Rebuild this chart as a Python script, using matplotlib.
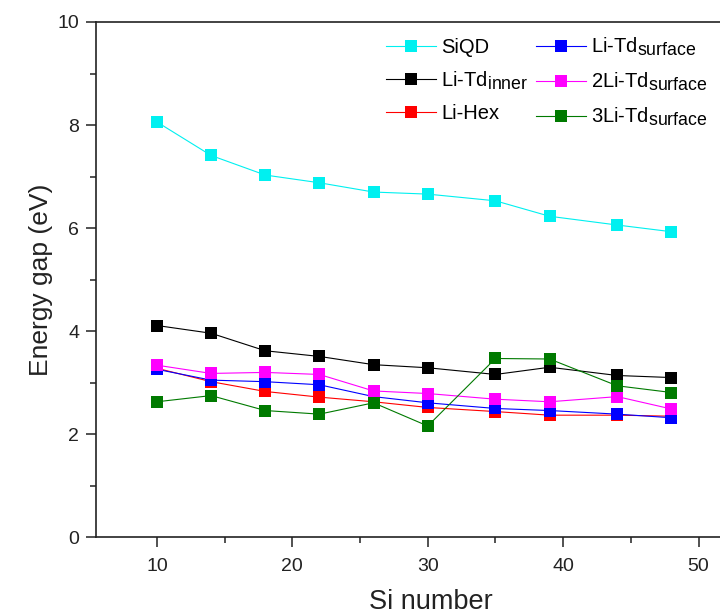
import matplotlib
matplotlib.use("Agg")
import matplotlib.pyplot as plt
import matplotlib._mathtext as _mt
from matplotlib.ticker import MultipleLocator

# larger subscripts in legend labels
_mt.SHRINK_FACTOR = 0.88

plt.rcParams["font.family"] = ["Liberation Sans", "DejaVu Sans"]
plt.rcParams["mathtext.fontset"] = "custom"
plt.rcParams["mathtext.rm"] = "Liberation Sans"
plt.rcParams["mathtext.it"] = "Liberation Sans"
plt.rcParams["mathtext.bf"] = "Liberation Sans:bold"

si_number = [10, 14, 18, 22, 26, 30, 35, 39, 44, 48]

sigap_siqd = [8.06, 7.41, 7.03, 6.88, 6.70, 6.66, 6.53, 6.23, 6.06, 5.93]
sigap_td_inner = [4.11, 3.96, 3.62, 3.51, 3.35, 3.29, 3.16, 3.30, 3.14, 3.10]
sigap_hex = [3.28, 3.02, 2.83, 2.72, 2.63, 2.52, 2.44, 2.37, 2.37, 2.35]
sigap_td_surface = [3.26, 3.05, 3.02, 2.96, 2.73, 2.61, 2.50, 2.46, 2.39, 2.32]
sigap_2li_surface = [3.34, 3.18, 3.20, 3.16, 2.84, 2.79, 2.68, 2.63, 2.73, 2.49]
sigap_3li_surface = [2.63, 2.75, 2.46, 2.39, 2.61, 2.16, 3.47, 3.46, 2.94, 2.81]

labels = [
    "SiQD",
    r"Li-Td$_{\mathregular{inner}}$",
    "Li-Hex",
    r"Li-Td$_{\mathregular{surface}}$",
    r"2Li-Td$_{\mathregular{surface}}$",
    r"3Li-Td$_{\mathregular{surface}}$",
]
series = [sigap_siqd, sigap_td_inner, sigap_hex,
          sigap_td_surface, sigap_2li_surface, sigap_3li_surface]
colors = ["#00F0F0", "#000000", "#FF0000", "#0000FF", "#FF00FF", "#007A00"]

fig = plt.figure(figsize=(7.2, 6.15), dpi=100)
W, H = 720, 615
left_px, bottom_px, top_px = 96, 537.3, 22
x_lo, x_hi = 5.5, 55.0
px_per_unit = 13.54
width_px = (x_hi - x_lo) * px_per_unit
ax = fig.add_axes([left_px / W, (H - bottom_px) / H,
                   width_px / W, (bottom_px - top_px) / H])

handles = []
for ys, lab, col in zip(series, labels, colors):
    h, = ax.plot(si_number, ys, color=col, lw=0.8, marker="s",
                 markersize=8, markeredgewidth=0, label=lab)
    handles.append(h)

ax.set_xlim(x_lo, x_hi)
ax.set_ylim(0, 10)
ax.xaxis.set_major_locator(MultipleLocator(10))
ax.xaxis.set_minor_locator(MultipleLocator(5))
ax.yaxis.set_major_locator(MultipleLocator(2))
ax.yaxis.set_minor_locator(MultipleLocator(1))
ax.tick_params(which="major", direction="out", length=7, width=1.1,
               labelsize=14, pad=5, color="#222222", labelcolor="#222222")
ax.tick_params(which="minor", direction="out", length=4, width=1.1,
               color="#222222")
ax.tick_params(axis="x", which="major", pad=8)
for s in ax.spines.values():
    s.set_linewidth(1.2)
    s.set_color("#222222")

ax.set_xlabel("Si number", fontsize=19.5, labelpad=10, color="#222222")
ax.set_ylabel("Energy gap (eV)", fontsize=19, labelpad=3, color="#222222")

leg = fig.legend(handles=handles, labels=labels, ncol=2, frameon=False,
                 loc="upper left", bbox_to_anchor=(386 / W, (H - 36) / H),
                 fontsize=14.5, handlelength=2.5, handletextpad=0.25,
                 columnspacing=0.35, labelspacing=0.62, borderpad=0,
                 borderaxespad=0)

fig.savefig("out.png", dpi=100, facecolor="white")
